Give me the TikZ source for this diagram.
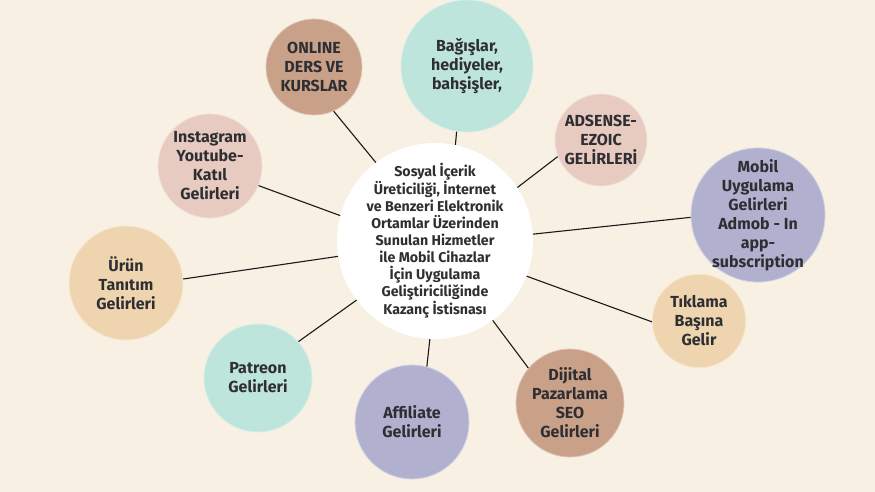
\documentclass[tikz,border=0pt]{standalone}
\usepackage{fontspec}
\setmainfont{Fira Sans}
\definecolor{bg}{HTML}{F8F0E3}
\definecolor{txt}{HTML}{2F2F33}
\definecolor{brownc}{HTML}{C9A088}
\definecolor{mintc}{HTML}{BDE5DB}
\definecolor{pinkc}{HTML}{E7CBC1}
\definecolor{lavc}{HTML}{B1B0CF}
\definecolor{peachc}{HTML}{EFD5AF}
\begin{document}
\begin{tikzpicture}[x=1pt,y=-1pt,
  bubble/.style={circle,inner sep=-60pt,align=center,text=txt,font=\bfseries\fontsize{16}{19}\selectfont,draw=white!40!#1,line width=0.8pt,fill=#1},
  hub/.style={circle,inner sep=-60pt,align=center,text=txt,fill=white,font=\bfseries\fontsize{14.2}{17}\selectfont,minimum size=196pt},
  link/.style={draw=black!90,line width=1.1pt}]
\fill[bg] (0,0) rectangle (875,492);
\useasboundingbox (0,0) rectangle (875,492);
\node[hub] (c) at (435,241) {Sosyal İçerik\\Üreticiliği, İnternet\\ve Benzeri Elektronik\\Ortamlar Üzerinden\\Sunulan Hizmetler\\ile Mobil Cihazlar\\İçin Uygulama\\Geliştiriciliğinde\\Kazanç İstisnası};
\node[bubble=brownc,minimum size=96pt] (online) at (314,67) {ONLINE\\DERS VE\\KURSLAR};
\node[bubble=mintc,minimum size=132pt] (bagis) at (467,66) {Bağışlar,\\hediyeler,\\bahşişler,};
\node[bubble=pinkc,minimum size=92pt] (adsense) at (601,140) {ADSENSE-\\EZOIC\\GELİRLERİ};
\node[bubble=lavc,minimum size=134pt] (mobil) at (758,215) {Mobil\\Uygulama\\Gelirleri\\Admob - In\\app-\\subscription};
\node[bubble=peachc,minimum size=92pt] (tik) at (699,321) {Tıklama\\Başına\\Gelir};
\node[bubble=brownc,minimum size=108pt] (dijital) at (570,403) {Dijital\\Pazarlama\\SEO\\Gelirleri};
\node[bubble=lavc,minimum size=114pt] (aff) at (412,422) {Affiliate\\Gelirleri};
\node[bubble=mintc,minimum size=104pt] (pat) at (258,378) {Patreon\\Gelirleri};
\node[bubble=peachc,minimum size=114pt] (urun) at (126,283) {Ürün\\Tanıtım\\Gelirleri};
\node[bubble=pinkc,minimum size=104pt] (insta) at (210,166) {Instagram\\Youtube-\\Katıl\\Gelirleri};
\draw[link] (c.127.6) -- (online.-66);
\draw[link] (c.78.5) -- (bagis.-99.5);
\draw[link] (c.33.5) -- (adsense.201);
\draw[link] (c.4.7) -- (mobil.182.6);
\draw[link] (c.-21.4) -- (tik.181);
\draw[link] (c.-54.7) -- (dijital.140);
\draw[link] (c.-93.5) -- (aff.75.7);
\draw[link] (c.217) -- (pat.42.6);
\draw[link] (c.189.4) -- (urun.4);
\draw[link] (c.165.8) -- (insta.-22.2);
\end{tikzpicture}
\end{document}
